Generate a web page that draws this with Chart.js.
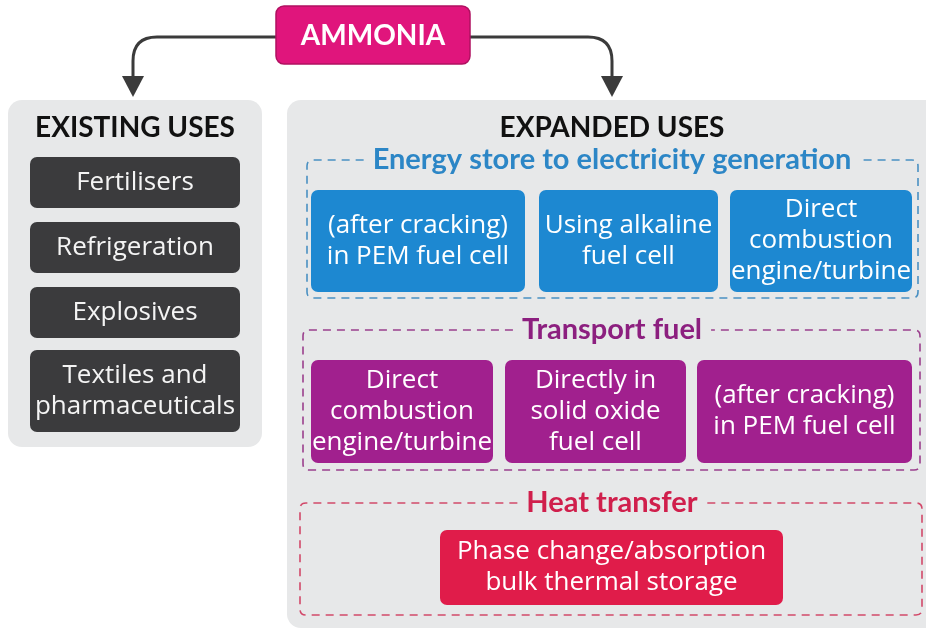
<!DOCTYPE html>
<html>
<head>
<meta charset="utf-8">
<script src="https://cdn.jsdelivr.net/npm/chart.js@4.4.0/dist/chart.umd.min.js"></script>
<style>
  html, body { margin: 0; padding: 0; background: #fff; }
  canvas { display: block; }
</style>
</head>
<body>
<canvas id="diagram" width="926" height="630"></canvas>
<script>
// diagram content
const rootLabel = 'AMMONIA';
const panelTitles = ['EXISTING USES', 'EXPANDED USES'];
const existingUses = ['Fertilisers', 'Refrigeration', 'Explosives', 'Textiles and\npharmaceuticals'];
const groupTitles = ['Energy store to electricity generation', 'Transport fuel', 'Heat transfer'];
const electricityUses = ['(after cracking)\nin PEM fuel cell', 'Using alkaline\nfuel cell', 'Direct\ncombustion\nengine/turbine'];
const transportUses = ['Direct\ncombustion\nengine/turbine', 'Directly in\nsolid oxide\nfuel cell', '(after cracking)\nin PEM fuel cell'];
const heatUses = ['Phase change/absorption\nbulk thermal storage'];

// layout in axis units [x0, y0, x1, y1]
const rootBox = [276, 6, 470, 64];
const panelBoxes = [[8, 100, 262, 447], [287, 100, 945, 628]];
const existingBoxes = [[30, 157, 240, 208], [30, 222, 240, 273], [30, 287, 240, 338], [30, 350, 240, 432]];
const groupBoxes = [[307, 160, 918, 298], [303, 330, 920, 470], [300, 503, 922, 615]];
const usesBoxes = [
  [[311, 190, 525, 292], [539, 190, 718, 292], [730, 190, 912, 292]],
  [[311, 360, 493, 463], [505, 360, 686, 463], [697, 360, 912, 463]],
  [[440, 530, 783, 605]]
];
const groupColors = [
  { title: '#2c86c6', box: '#1d88d1', dash: '#4a90c2' },
  { title: '#8c1f7f', box: '#a1208e', dash: '#9b3f8d' },
  { title: '#d01f4c', box: '#e01c4a', dash: '#d2496a' }
];

const TITLE_FONT = 'Lato, "Open Sans", sans-serif';
const BODY_FONT = '"Open Sans", Lato, sans-serif';

function px(chart, x, y) {
  return [chart.scales.x.getPixelForValue(x), chart.scales.y.getPixelForValue(y)];
}

function rect(chart, b) {
  const [x0, y0] = px(chart, b[0], b[1]);
  const [x1, y1] = px(chart, b[2], b[3]);
  return { x: x0, y: y0, w: x1 - x0, h: y1 - y0, cx: (x0 + x1) / 2, cy: (y0 + y1) / 2 };
}

function fillBox(ctx, r, color, radius) {
  ctx.beginPath();
  ctx.roundRect(r.x, r.y, r.w, r.h, radius);
  ctx.fillStyle = color;
  ctx.fill();
}

function drawLines(ctx, text, cx, cy, lh) {
  const lines = text.split('\n');
  const start = cy - (lines.length - 1) * lh / 2;
  lines.forEach((l, i) => ctx.fillText(l, cx, start + i * lh));
}

const diagramPlugin = {
  id: 'diagram',
  afterDraw(chart) {
    const ctx = chart.ctx;
    ctx.save();
    ctx.textAlign = 'center';
    ctx.textBaseline = 'middle';

    // connectors
    const root = rect(chart, rootBox);
    ctx.strokeStyle = '#3b3b3b';
    ctx.fillStyle = '#3b3b3b';
    ctx.lineWidth = 3;
    const arrowXs = [133, 612];
    arrowXs.forEach((ax, i) => {
      const [tx, ty] = px(chart, ax, 97);
      const [sx, sy] = px(chart, i === 0 ? rootBox[0] : rootBox[2], 37);
      const dir = i === 0 ? 1 : -1;
      ctx.beginPath();
      ctx.moveTo(sx, sy);
      ctx.lineTo(tx + dir * 24, sy);
      ctx.quadraticCurveTo(tx, sy, tx, sy + 24);
      ctx.lineTo(tx, ty - 16);
      ctx.stroke();
      ctx.beginPath();
      ctx.moveTo(tx - 11, ty - 21);
      ctx.lineTo(tx + 11, ty - 21);
      ctx.lineTo(tx, ty);
      ctx.closePath();
      ctx.fill();
    });

    // root
    fillBox(ctx, root, '#e0157c', 8);
    ctx.strokeStyle = '#b01060';
    ctx.lineWidth = 1.5;
    ctx.stroke();
    ctx.fillStyle = '#ffffff';
    ctx.font = 'bold 28px ' + TITLE_FONT;
    ctx.fillText(rootLabel, root.cx, root.cy + 1);

    // panels
    panelBoxes.forEach((b, i) => {
      const r = rect(chart, b);
      fillBox(ctx, r, '#e7e8e9', 14);
      ctx.fillStyle = '#111111';
      ctx.font = 'bold 28px ' + TITLE_FONT;
      ctx.fillText(panelTitles[i], i === 0 ? r.cx : px(chart, 612, 0)[0], px(chart, 0, 128)[1]);
    });

    // existing uses
    ctx.font = '26px ' + BODY_FONT;
    existingUses.forEach((label, i) => {
      const r = rect(chart, existingBoxes[i]);
      fillBox(ctx, r, '#3b3b3d', 7);
      ctx.fillStyle = '#f4f4f4';
      drawLines(ctx, label, r.cx, r.cy, 31);
    });

    // expanded groups
    const groupUses = [electricityUses, transportUses, heatUses];
    groupBoxes.forEach((b, gi) => {
      const r = rect(chart, b);
      const col = groupColors[gi];
      ctx.font = 'bold 29px ' + TITLE_FONT;
      const tw = ctx.measureText(groupTitles[gi]).width;
      const tcx = px(chart, 612, 0)[0];
      const gap = 9;
      ctx.strokeStyle = col.dash;
      ctx.lineWidth = 1.6;
      ctx.setLineDash([8, 6]);
      ctx.beginPath();
      ctx.moveTo(tcx - tw / 2 - gap, r.y);
      ctx.lineTo(r.x + 6, r.y);
      ctx.quadraticCurveTo(r.x, r.y, r.x, r.y + 6);
      ctx.lineTo(r.x, r.y + r.h - 6);
      ctx.quadraticCurveTo(r.x, r.y + r.h, r.x + 6, r.y + r.h);
      ctx.lineTo(r.x + r.w - 6, r.y + r.h);
      ctx.quadraticCurveTo(r.x + r.w, r.y + r.h, r.x + r.w, r.y + r.h - 6);
      ctx.lineTo(r.x + r.w, r.y + 6);
      ctx.quadraticCurveTo(r.x + r.w, r.y, r.x + r.w - 6, r.y);
      ctx.lineTo(tcx + tw / 2 + gap, r.y);
      ctx.stroke();
      ctx.setLineDash([]);
      ctx.fillStyle = col.title;
      ctx.fillText(groupTitles[gi], tcx, r.y);

      ctx.font = '26px ' + BODY_FONT;
      groupUses[gi].forEach((label, i) => {
        const br = rect(chart, usesBoxes[gi][i]);
        fillBox(ctx, br, col.box, 7);
        ctx.fillStyle = '#ffffff';
        drawLines(ctx, label, br.cx, br.cy, 31);
      });
    });

    ctx.restore();
  }
};

new Chart(document.getElementById('diagram'), {
  type: 'scatter',
  data: { datasets: [{ data: [] }] },
  options: {
    responsive: false,
    animation: false,
    layout: { padding: 0 },
    scales: {
      x: { type: 'linear', min: 0, max: 926, display: false },
      y: { type: 'linear', min: 0, max: 630, reverse: true, display: false }
    },
    plugins: { legend: { display: false }, tooltip: { enabled: false } }
  },
  plugins: [diagramPlugin]
});
</script>
</body>
</html>
